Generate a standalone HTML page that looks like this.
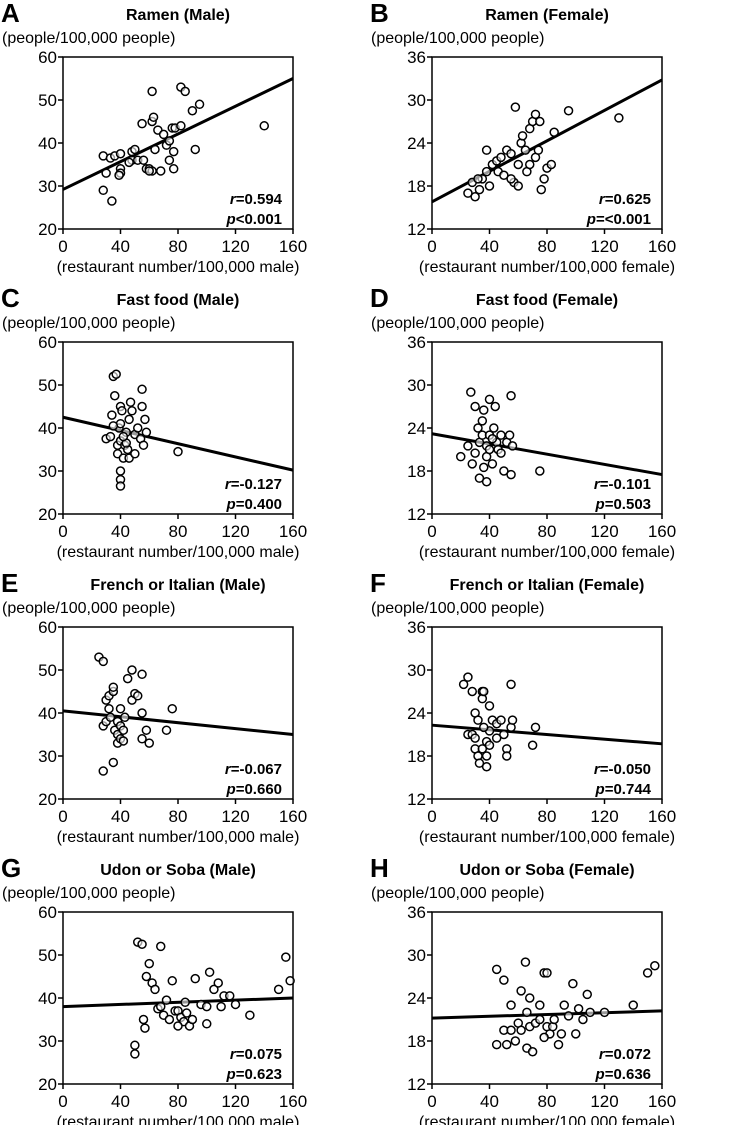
<!DOCTYPE html><html><head><meta charset="utf-8"><style>
body{margin:0;background:#fff;}
svg{display:block;font-family:"Liberation Sans",Arial,sans-serif;}
</style></head><body>
<svg id="s" width="730" height="1125" xmlns="http://www.w3.org/2000/svg"></svg>
<script>
const P=[
{L:"A",t:"Ramen (Male)",f:0,sx:"male",ln:[29.2,55],r:"=0.594",p:"<0.001",d:[[28,37],[30,33],[33,36.5],[36,37],[40,37.5],[40,34],[40,33],[39,32.5],[28,29],[34,26.5],[48,38],[50,38.5],[48,36],[52,36],[46,35.5],[55,44.5],[58,34],[60,34],[62,33.5],[68,33.5],[62,45],[63,46],[62,52],[64,38.5],[66,43],[70,42],[72,39.5],[74,40.5],[74,36],[77,38],[77,34],[76,43.5],[78,43.5],[82,44],[82,53],[85,52],[90,47.5],[92,38.5],[95,49],[140,44],[56,36],[60,33.5]]},
{L:"B",t:"Ramen (Female)",f:1,sx:"female",ln:[15.8,32.8],r:"=0.625",p:"=<0.001",d:[[25,17],[28,18.5],[30,16.5],[33,17.5],[35,19],[38,20],[38,23],[40,18],[42,21],[45,21.5],[46,20],[48,22],[50,19.5],[52,23],[55,22.5],[57,18.5],[58,29],[60,18],[60,21],[62,24],[63,25],[65,23],[66,20],[68,21],[68,26],[70,27],[72,28],[72,22],[74,23],[75,27],[76,17.5],[78,19],[80,20.5],[83,21],[85,25.5],[95,28.5],[130,27.5],[32,19],[55,19]]},
{L:"C",t:"Fast food (Male)",f:0,sx:"male",ln:[42.5,30.2],r:"=-0.127",p:"=0.400",d:[[30,37.5],[33,38],[34,43],[35,52],[37,52.5],[36,47.5],[38,36],[38,34],[39,40],[40,45],[40,41],[40,37],[40,30],[40,28],[40,26.5],[41,44],[42,33],[43,36],[44,39],[45,35],[46,42],[46,33],[47,46],[48,44],[50,38.5],[50,34],[52,40],[54,37.5],[55,45],[55,49],[56,36],[57,42],[58,39],[80,34.5],[35,40.5],[44,36.5],[42,38]]},
{L:"D",t:"Fast food (Female)",f:1,sx:"female",ln:[23.2,17.5],r:"=-0.101",p:"=0.503",d:[[20,20],[25,21.5],[27,29],[28,19],[30,27],[30,20.5],[32,24],[33,17],[33,22],[35,23],[36,26.5],[36,18.5],[38,20],[38,21.5],[38,16.5],[40,21],[40,28],[40,23],[42,19],[43,24],[44,27],[45,22],[46,21],[48,20.5],[48,23],[50,18],[52,22],[54,23],[55,28.5],[56,21.5],[55,17.5],[75,18],[35,25],[42,22.5]]},
{L:"E",t:"French or Italian (Male)",f:0,sx:"male",ln:[40.5,35],r:"=-0.067",p:"=0.660",d:[[25,53],[28,52],[28,37],[30,38],[28,26.5],[30,43],[32,44],[33,39],[35,45],[35,46],[36,36],[38,38],[38,35],[38,33],[40,34],[40,37],[40,41],[42,36],[43,39],[45,48],[48,50],[48,43],[50,44.5],[52,44],[55,49],[55,40],[55,34],[58,36],[60,33],[72,36],[76,41],[35,28.5],[42,33.5],[32,41]]},
{L:"F",t:"French or Italian (Female)",f:1,sx:"female",ln:[22.3,19.7],r:"=-0.050",p:"=0.744",d:[[22,28],[25,29],[25,21],[28,27],[28,21],[30,20.5],[30,24],[30,19],[32,23],[32,18],[33,17],[35,19],[35,27],[35,26],[38,20],[38,18],[38,16.5],[40,21.5],[40,19.5],[42,23],[45,22.5],[45,20.5],[48,23],[50,21],[52,19],[52,18],[55,28],[55,22],[56,23],[70,19.5],[72,22],[36,27],[40,25],[36,22]]},
{L:"G",t:"Udon or Soba (Male)",f:0,sx:"male",ln:[38,40],r:"=0.075",p:"=0.623",d:[[50,27],[50,29],[52,53],[55,52.5],[56,35],[57,33],[58,45],[60,48],[62,43.5],[66,37.5],[68,52],[68,38],[70,36],[72,39.5],[74,35],[76,44],[78,37],[80,37],[82,35.5],[84,34.5],[85,39],[86,36.5],[88,33.5],[90,35],[92,44.5],[96,38.5],[100,34],[100,38],[102,46],[105,42],[108,43.5],[110,38],[112,40.5],[116,40.5],[120,38.5],[130,36],[150,42],[155,49.5],[158,44],[80,33.5],[64,42]]},
{L:"H",t:"Udon or Soba (Female)",f:1,sx:"female",ln:[21.2,22.2],r:"=0.072",p:"=0.636",d:[[45,17.5],[45,28],[50,26.5],[50,19.5],[52,17.5],[55,23],[55,19.5],[58,18],[60,20.5],[62,25],[65,29],[66,22],[66,17],[68,20],[68,24],[70,16.5],[72,20.5],[75,21],[75,23],[78,27.5],[80,27.5],[80,20],[82,19],[84,20],[85,21],[88,17.5],[90,19],[92,23],[95,21.5],[98,26],[100,19],[102,22.5],[105,21],[108,24.5],[110,22],[120,22],[140,23],[150,27.5],[155,28.5],[78,18.5],[62,19.5]]}
];
let h="";
P.forEach((o,i)=>{
 const col=i%2,row=Math.floor(i/2);
 const x0=col?432:63,y0=57+row*285,W=230,H=172,y1=y0+H;
 const ymin=o.f?12:20,ymax=o.f?36:60;
 const X=v=>x0+v/160*W, Y=v=>y1-(v-ymin)/(ymax-ymin)*H;
 h+=`<text x="${x0-62}" y="${y0-35}" font-size="26" font-weight="bold">${o.L}</text>`;
 h+=`<text x="${x0+W/2}" y="${y0-37}" font-size="16" font-weight="bold" text-anchor="middle">${o.t}</text>`;
 h+=`<text x="${x0-61}" y="${y0-14}" font-size="16">(people/100,000 people)</text>`;
 h+=`<rect x="${x0}" y="${y0}" width="${W}" height="${H}" fill="none" stroke="#000" stroke-width="1.5"/>`;
 for(let k=0;k<5;k++){const v=ymin+k*(ymax-ymin)/4,yy=Y(v);
  h+=`<line x1="${x0-5}" x2="${x0}" y1="${yy}" y2="${yy}" stroke="#000" stroke-width="1.5"/><text x="${x0-6}" y="${yy+6}" font-size="17" text-anchor="end">${v}</text>`;
  const xv=k*40,xx=X(xv);
  h+=`<line x1="${xx}" x2="${xx}" y1="${y1}" y2="${y1+5}" stroke="#000" stroke-width="1.5"/><text x="${xx}" y="${y1+23}" font-size="17" text-anchor="middle">${xv}</text>`;}
 h+=`<text x="${x0+W/2}" y="${y1+43}" font-size="16" text-anchor="middle">(restaurant number/100,000 ${o.sx})</text>`;
 h+=`<line x1="${x0}" y1="${Y(o.ln[0])}" x2="${x0+W}" y2="${Y(o.ln[1])}" stroke="#000" stroke-width="3"/>`;
 o.d.forEach(p=>{h+=`<circle cx="${X(p[0])}" cy="${Y(p[1])}" r="4" fill="#fff" fill-opacity="0.6" stroke="#000" stroke-width="1.5"/>`;});
 h+=`<text x="${x0+W-11}" y="${y1-25}" font-size="15" font-weight="bold" text-anchor="end"><tspan font-style="italic">r</tspan>${o.r}</text>`;
 h+=`<text x="${x0+W-11}" y="${y1-5}" font-size="15" font-weight="bold" text-anchor="end"><tspan font-style="italic">p</tspan>${o.p}</text>`;
});
document.getElementById("s").innerHTML=h;
</script>
</body></html>
